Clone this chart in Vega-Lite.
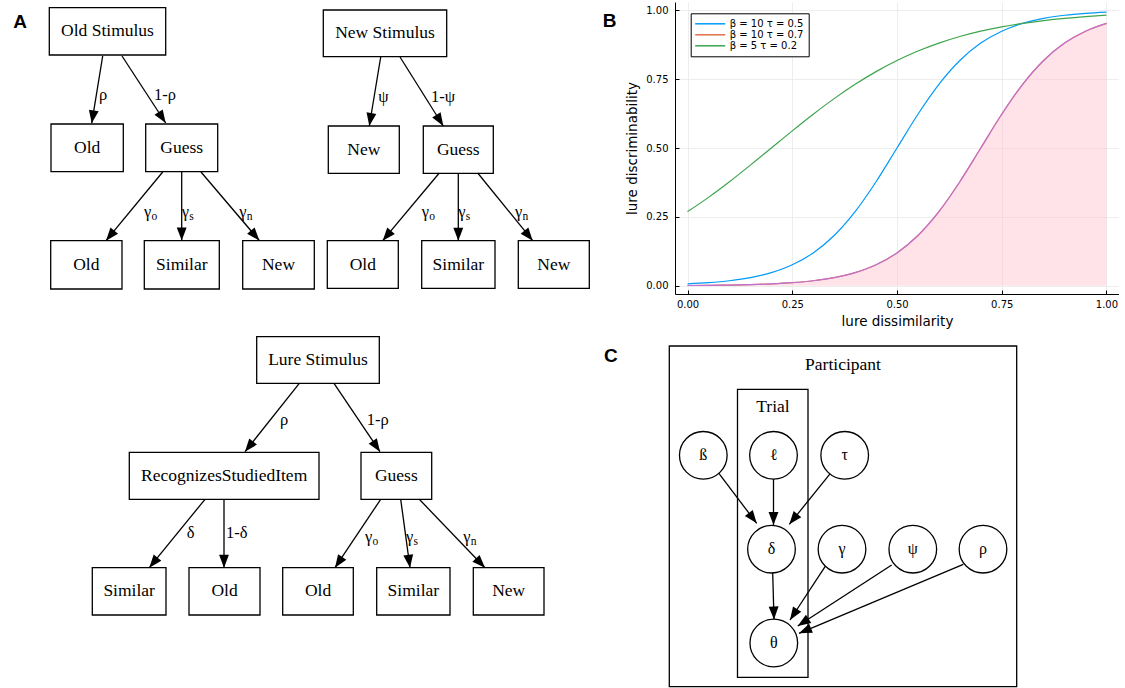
{
  "$schema": "https://vega.github.io/schema/vega-lite/v6.json",
  "background": "white",
  "padding": {"left": 0, "top": 2, "right": 0, "bottom": 0},
  "spacing": 0,
  "bounds": "flush",
  "config": {
    "view": {"stroke": null},
    "axis": {
      "domainColor": "black", "domainWidth": 1,
      "tickColor": "black", "tickSize": -4, "tickWidth": 1,
      "gridColor": "#e8e8e8", "gridWidth": 0.8,
      "labelFont": "DejaVu Sans", "labelFontSize": 10, "labelColor": "black",
      "titleFont": "DejaVu Sans", "titleFontSize": 13.5, "titleFontWeight": "normal", "titleColor": "black"
    }
  },
  "datasets": {
    "curves": [
      {"x": 0, "y": 0.0067, "series": "β = 10 τ = 0.5"},
      {"x": 0.05, "y": 0.0110, "series": "β = 10 τ = 0.5"},
      {"x": 0.1, "y": 0.0180, "series": "β = 10 τ = 0.5"},
      {"x": 0.15, "y": 0.0293, "series": "β = 10 τ = 0.5"},
      {"x": 0.2, "y": 0.0474, "series": "β = 10 τ = 0.5"},
      {"x": 0.25, "y": 0.0759, "series": "β = 10 τ = 0.5"},
      {"x": 0.3, "y": 0.1192, "series": "β = 10 τ = 0.5"},
      {"x": 0.35, "y": 0.1824, "series": "β = 10 τ = 0.5"},
      {"x": 0.4, "y": 0.2689, "series": "β = 10 τ = 0.5"},
      {"x": 0.45, "y": 0.3775, "series": "β = 10 τ = 0.5"},
      {"x": 0.5, "y": 0.5, "series": "β = 10 τ = 0.5"},
      {"x": 0.55, "y": 0.6225, "series": "β = 10 τ = 0.5"},
      {"x": 0.6, "y": 0.7311, "series": "β = 10 τ = 0.5"},
      {"x": 0.65, "y": 0.8176, "series": "β = 10 τ = 0.5"},
      {"x": 0.7, "y": 0.8808, "series": "β = 10 τ = 0.5"},
      {"x": 0.75, "y": 0.9241, "series": "β = 10 τ = 0.5"},
      {"x": 0.8, "y": 0.9526, "series": "β = 10 τ = 0.5"},
      {"x": 0.85, "y": 0.9707, "series": "β = 10 τ = 0.5"},
      {"x": 0.9, "y": 0.9820, "series": "β = 10 τ = 0.5"},
      {"x": 0.95, "y": 0.9890, "series": "β = 10 τ = 0.5"},
      {"x": 1, "y": 0.9933, "series": "β = 10 τ = 0.5"},
      {"x": 0, "y": 0.0009, "series": "β = 10 τ = 0.7"},
      {"x": 0.05, "y": 0.0015, "series": "β = 10 τ = 0.7"},
      {"x": 0.1, "y": 0.0025, "series": "β = 10 τ = 0.7"},
      {"x": 0.15, "y": 0.0041, "series": "β = 10 τ = 0.7"},
      {"x": 0.2, "y": 0.0067, "series": "β = 10 τ = 0.7"},
      {"x": 0.25, "y": 0.0110, "series": "β = 10 τ = 0.7"},
      {"x": 0.3, "y": 0.0180, "series": "β = 10 τ = 0.7"},
      {"x": 0.35, "y": 0.0293, "series": "β = 10 τ = 0.7"},
      {"x": 0.4, "y": 0.0474, "series": "β = 10 τ = 0.7"},
      {"x": 0.45, "y": 0.0759, "series": "β = 10 τ = 0.7"},
      {"x": 0.5, "y": 0.1192, "series": "β = 10 τ = 0.7"},
      {"x": 0.55, "y": 0.1824, "series": "β = 10 τ = 0.7"},
      {"x": 0.6, "y": 0.2689, "series": "β = 10 τ = 0.7"},
      {"x": 0.65, "y": 0.3775, "series": "β = 10 τ = 0.7"},
      {"x": 0.7, "y": 0.5, "series": "β = 10 τ = 0.7"},
      {"x": 0.75, "y": 0.6225, "series": "β = 10 τ = 0.7"},
      {"x": 0.8, "y": 0.7311, "series": "β = 10 τ = 0.7"},
      {"x": 0.85, "y": 0.8176, "series": "β = 10 τ = 0.7"},
      {"x": 0.9, "y": 0.8808, "series": "β = 10 τ = 0.7"},
      {"x": 0.95, "y": 0.9241, "series": "β = 10 τ = 0.7"},
      {"x": 1, "y": 0.9526, "series": "β = 10 τ = 0.7"},
      {"x": 0, "y": 0.2689, "series": "β = 5 τ = 0.2"},
      {"x": 0.05, "y": 0.3208, "series": "β = 5 τ = 0.2"},
      {"x": 0.1, "y": 0.3775, "series": "β = 5 τ = 0.2"},
      {"x": 0.15, "y": 0.4378, "series": "β = 5 τ = 0.2"},
      {"x": 0.2, "y": 0.5, "series": "β = 5 τ = 0.2"},
      {"x": 0.25, "y": 0.5622, "series": "β = 5 τ = 0.2"},
      {"x": 0.3, "y": 0.6225, "series": "β = 5 τ = 0.2"},
      {"x": 0.35, "y": 0.6792, "series": "β = 5 τ = 0.2"},
      {"x": 0.4, "y": 0.7311, "series": "β = 5 τ = 0.2"},
      {"x": 0.45, "y": 0.7773, "series": "β = 5 τ = 0.2"},
      {"x": 0.5, "y": 0.8176, "series": "β = 5 τ = 0.2"},
      {"x": 0.55, "y": 0.8520, "series": "β = 5 τ = 0.2"},
      {"x": 0.6, "y": 0.8808, "series": "β = 5 τ = 0.2"},
      {"x": 0.65, "y": 0.9047, "series": "β = 5 τ = 0.2"},
      {"x": 0.7, "y": 0.9241, "series": "β = 5 τ = 0.2"},
      {"x": 0.75, "y": 0.9399, "series": "β = 5 τ = 0.2"},
      {"x": 0.8, "y": 0.9526, "series": "β = 5 τ = 0.2"},
      {"x": 0.85, "y": 0.9627, "series": "β = 5 τ = 0.2"},
      {"x": 0.9, "y": 0.9707, "series": "β = 5 τ = 0.2"},
      {"x": 0.95, "y": 0.9770, "series": "β = 5 τ = 0.2"},
      {"x": 1, "y": 0.9820, "series": "β = 5 τ = 0.2"}
    ],
    "boxes": [
      {"x1": 49.3, "y1": 7.7, "x2": 165.7, "y2": 55, "label": "Old Stimulus"},
      {"x1": 51, "y1": 124, "x2": 123.3, "y2": 171.7, "label": "Old"},
      {"x1": 145.7, "y1": 124, "x2": 217.7, "y2": 171.7, "label": "Guess"},
      {"x1": 50.7, "y1": 240.7, "x2": 122, "y2": 289, "label": "Old"},
      {"x1": 144.3, "y1": 240.7, "x2": 219.3, "y2": 289, "label": "Similar"},
      {"x1": 242.7, "y1": 240.7, "x2": 314.3, "y2": 289, "label": "New"},
      {"x1": 323.3, "y1": 10, "x2": 446.7, "y2": 56.7, "label": "New Stimulus"},
      {"x1": 328.3, "y1": 126, "x2": 399.3, "y2": 173.3, "label": "New"},
      {"x1": 423.3, "y1": 126, "x2": 493.3, "y2": 173.3, "label": "Guess"},
      {"x1": 327.3, "y1": 240.7, "x2": 398.3, "y2": 288.3, "label": "Old"},
      {"x1": 421.7, "y1": 240.7, "x2": 495, "y2": 288.3, "label": "Similar"},
      {"x1": 518.3, "y1": 240.7, "x2": 589.3, "y2": 288.3, "label": "New"},
      {"x1": 256.7, "y1": 336.7, "x2": 379.3, "y2": 383.3, "label": "Lure Stimulus"},
      {"x1": 129.3, "y1": 452.3, "x2": 319, "y2": 499.3, "label": "RecognizesStudiedItem"},
      {"x1": 361, "y1": 452.3, "x2": 431.7, "y2": 499.3, "label": "Guess"},
      {"x1": 92.3, "y1": 567.7, "x2": 166, "y2": 615, "label": "Similar"},
      {"x1": 189, "y1": 567.7, "x2": 260, "y2": 615, "label": "Old"},
      {"x1": 282.7, "y1": 567.7, "x2": 353.3, "y2": 615, "label": "Old"},
      {"x1": 376.7, "y1": 567.7, "x2": 450, "y2": 615, "label": "Similar"},
      {"x1": 473.3, "y1": 567.7, "x2": 544, "y2": 615, "label": "New"}
    ],
    "plates": [
      {"x1": 669.3, "y1": 346, "x2": 1016.7, "y2": 686.7, "label": "Participant"},
      {"x1": 737.5, "y1": 389.3, "x2": 808, "y2": 677.3, "label": "Trial"}
    ],
    "ptitles": [
      {"x": 843, "y": 365, "label": "Participant"},
      {"x": 773, "y": 406.7, "label": "Trial"}
    ],
    "edges": [
      {"x1": 102.7, "y1": 56, "x2": 91.7, "y2": 123.3},
      {"x1": 122, "y1": 56, "x2": 165.7, "y2": 123},
      {"x1": 162.7, "y1": 172, "x2": 106, "y2": 240.7},
      {"x1": 181.7, "y1": 172, "x2": 181.7, "y2": 240.5},
      {"x1": 201, "y1": 172, "x2": 259.3, "y2": 240.5},
      {"x1": 380.7, "y1": 57, "x2": 369.3, "y2": 126},
      {"x1": 400, "y1": 57, "x2": 443.3, "y2": 126},
      {"x1": 439.3, "y1": 173, "x2": 382.7, "y2": 240.7},
      {"x1": 458.3, "y1": 173, "x2": 458.3, "y2": 240.7},
      {"x1": 477.7, "y1": 173, "x2": 532.7, "y2": 240.7},
      {"x1": 299.3, "y1": 383.3, "x2": 245, "y2": 451.7},
      {"x1": 334, "y1": 383.3, "x2": 380, "y2": 451.7},
      {"x1": 205, "y1": 499.3, "x2": 149.3, "y2": 567.7},
      {"x1": 224, "y1": 499.3, "x2": 224, "y2": 567.7},
      {"x1": 380.7, "y1": 499.3, "x2": 335, "y2": 567.7},
      {"x1": 400.7, "y1": 499.3, "x2": 410, "y2": 567.7},
      {"x1": 419.3, "y1": 499.3, "x2": 485, "y2": 567.7},
      {"x1": 718.3, "y1": 472.7, "x2": 756.7, "y2": 523.3},
      {"x1": 773.5, "y1": 479, "x2": 773.5, "y2": 525},
      {"x1": 831, "y1": 472.7, "x2": 789.3, "y2": 524.3},
      {"x1": 772.7, "y1": 573, "x2": 774, "y2": 619.5},
      {"x1": 827.7, "y1": 562.7, "x2": 790, "y2": 620},
      {"x1": 891.7, "y1": 565, "x2": 797.7, "y2": 626},
      {"x1": 963.3, "y1": 564.3, "x2": 799, "y2": 633.3}
    ],
    "elabels": [
      {"x": 99, "y": 95, "label": "ρ"},
      {"x": 154, "y": 95, "label": "1-ρ"},
      {"x": 144, "y": 212, "label": "γ", "sub": "o"},
      {"x": 181.7, "y": 212, "label": "γ", "sub": "s"},
      {"x": 239.3, "y": 212, "label": "γ", "sub": "n"},
      {"x": 378.3, "y": 97, "label": "ψ"},
      {"x": 431, "y": 97, "label": "1-ψ"},
      {"x": 421.7, "y": 212, "label": "γ", "sub": "o"},
      {"x": 458.3, "y": 212, "label": "γ", "sub": "s"},
      {"x": 515, "y": 212, "label": "γ", "sub": "n"},
      {"x": 280, "y": 420, "label": "ρ"},
      {"x": 366.7, "y": 420, "label": "1-ρ"},
      {"x": 186.7, "y": 533.3, "label": "δ"},
      {"x": 226, "y": 533.3, "label": "1-δ"},
      {"x": 365, "y": 536.7, "label": "γ", "sub": "o"},
      {"x": 406, "y": 536.7, "label": "γ", "sub": "s"},
      {"x": 463.3, "y": 536.7, "label": "γ", "sub": "n"}
    ],
    "nodes": [
      {"x": 703.3, "y": 455.3, "label": "ß"},
      {"x": 773.5, "y": 455.3, "label": "ℓ"},
      {"x": 844.7, "y": 455.3, "label": "τ"},
      {"x": 771.5, "y": 549.2, "label": "δ"},
      {"x": 842, "y": 549.2, "label": "γ"},
      {"x": 912.8, "y": 549.2, "label": "ψ"},
      {"x": 983, "y": 549.2, "label": "ρ"},
      {"x": 773.8, "y": 643, "label": "θ"}
    ],
    "letters": [
      {"x": 20, "y": 21.7, "label": "A"},
      {"x": 609.7, "y": 21.3, "label": "B"},
      {"x": 610.8, "y": 355.8, "label": "C"}
    ]
  },
  "hconcat": [
    {
      "width": 675,
      "height": 686,
      "layer": [
        {
          "data": {"name": "plates"},
          "mark": {"type": "rect", "filled": false, "stroke": "black", "strokeWidth": 1.3},
          "encoding": {
            "x": {"field": "x1", "type": "quantitative", "scale": {"domain": [0, 675], "nice": false, "zero": false}, "axis": null},
            "x2": {"field": "x2"},
            "y": {"field": "y1", "type": "quantitative", "scale": {"domain": [2, 688], "nice": false, "zero": false, "reverse": true}, "axis": null},
            "y2": {"field": "y2"}
          }
        },
        {
          "data": {"name": "boxes"},
          "mark": {"type": "rect", "filled": false, "stroke": "black", "strokeWidth": 1.3},
          "encoding": {
            "x": {"field": "x1", "type": "quantitative", "scale": {"domain": [0, 675], "nice": false, "zero": false}, "axis": null},
            "x2": {"field": "x2"},
            "y": {"field": "y1", "type": "quantitative", "scale": {"domain": [2, 688], "nice": false, "zero": false, "reverse": true}, "axis": null},
            "y2": {"field": "y2"}
          }
        },
        {
          "data": {"name": "edges"},
          "mark": {"type": "rule", "color": "black", "strokeWidth": 1.3},
          "encoding": {
            "x": {"field": "x1", "type": "quantitative", "scale": {"domain": [0, 675], "nice": false, "zero": false}, "axis": null},
            "x2": {"field": "x2"},
            "y": {"field": "y1", "type": "quantitative", "scale": {"domain": [2, 688], "nice": false, "zero": false, "reverse": true}, "axis": null},
            "y2": {"field": "y2"}
          }
        },
        {
          "data": {"name": "edges"},
          "transform": [{"calculate": "atan2(datum.x2 - datum.x1, datum.y1 - datum.y2) * 180 / PI", "as": "ang"}],
          "mark": {"type": "point", "shape": "M0,0L-0.38,1L0.38,1Z", "size": 676, "filled": true, "color": "black", "opacity": 1, "strokeWidth": 0},
          "encoding": {
            "x": {"field": "x2", "type": "quantitative", "scale": {"domain": [0, 675], "nice": false, "zero": false}, "axis": null},
            "y": {"field": "y2", "type": "quantitative", "scale": {"domain": [2, 688], "nice": false, "zero": false, "reverse": true}, "axis": null},
            "angle": {"field": "ang", "type": "quantitative", "scale": null}
          }
        },
        {
          "data": {"name": "nodes"},
          "mark": {"type": "point", "shape": "circle", "size": 2270, "filled": true, "fill": "white", "stroke": "black", "strokeWidth": 1.3, "opacity": 1},
          "encoding": {
            "x": {"field": "x", "type": "quantitative", "scale": {"domain": [0, 675], "nice": false, "zero": false}, "axis": null},
            "y": {"field": "y", "type": "quantitative", "scale": {"domain": [2, 688], "nice": false, "zero": false, "reverse": true}, "axis": null}
          }
        },
        {
          "data": {"name": "boxes"},
          "transform": [
            {"calculate": "(datum.x1 + datum.x2) / 2", "as": "cx"},
            {"calculate": "(datum.y1 + datum.y2) / 2", "as": "cy"}
          ],
          "mark": {"type": "text", "font": "Liberation Serif", "fontSize": 17.5, "color": "black"},
          "encoding": {
            "x": {"field": "cx", "type": "quantitative", "scale": {"domain": [0, 675], "nice": false, "zero": false}, "axis": null},
            "y": {"field": "cy", "type": "quantitative", "scale": {"domain": [2, 688], "nice": false, "zero": false, "reverse": true}, "axis": null},
            "text": {"field": "label"}
          }
        },
        {
          "data": {"name": "nodes"},
          "mark": {"type": "text", "font": "Liberation Serif", "fontSize": 16, "color": "black"},
          "encoding": {
            "x": {"field": "x", "type": "quantitative", "scale": {"domain": [0, 675], "nice": false, "zero": false}, "axis": null},
            "y": {"field": "y", "type": "quantitative", "scale": {"domain": [2, 688], "nice": false, "zero": false, "reverse": true}, "axis": null},
            "text": {"field": "label"}
          }
        },
        {
          "data": {"name": "elabels"},
          "mark": {"type": "text", "font": "Liberation Serif", "fontSize": 16.5, "color": "black", "align": "left"},
          "encoding": {
            "x": {"field": "x", "type": "quantitative", "scale": {"domain": [0, 675], "nice": false, "zero": false}, "axis": null},
            "y": {"field": "y", "type": "quantitative", "scale": {"domain": [2, 688], "nice": false, "zero": false, "reverse": true}, "axis": null},
            "text": {"field": "label"}
          }
        },
        {
          "data": {"name": "elabels"},
          "transform": [{"filter": "datum.sub"}],
          "mark": {"type": "text", "font": "Liberation Serif", "fontSize": 11.5, "color": "black", "align": "left", "dx": 7.5, "dy": 5},
          "encoding": {
            "x": {"field": "x", "type": "quantitative", "scale": {"domain": [0, 675], "nice": false, "zero": false}, "axis": null},
            "y": {"field": "y", "type": "quantitative", "scale": {"domain": [2, 688], "nice": false, "zero": false, "reverse": true}, "axis": null},
            "text": {"field": "sub"}
          }
        },
        {
          "data": {"name": "ptitles"},
          "mark": {"type": "text", "font": "Liberation Serif", "fontSize": 17.5, "color": "black"},
          "encoding": {
            "x": {"field": "x", "type": "quantitative", "scale": {"domain": [0, 675], "nice": false, "zero": false}, "axis": null},
            "y": {"field": "y", "type": "quantitative", "scale": {"domain": [2, 688], "nice": false, "zero": false, "reverse": true}, "axis": null},
            "text": {"field": "label"}
          }
        },
        {
          "data": {"name": "letters"},
          "mark": {"type": "text", "font": "Liberation Sans", "fontSize": 19, "fontWeight": "bold", "color": "black"},
          "encoding": {
            "x": {"field": "x", "type": "quantitative", "scale": {"domain": [0, 675], "nice": false, "zero": false}, "axis": null},
            "y": {"field": "y", "type": "quantitative", "scale": {"domain": [2, 688], "nice": false, "zero": false, "reverse": true}, "axis": null},
            "text": {"field": "label"}
          }
        }
      ]
    },
    {
      "width": 444,
      "height": 292,
      "data": {"name": "curves"},
      "encoding": {
        "x": {
          "field": "x", "type": "quantitative",
          "scale": {"domain": [-0.03, 1.03], "nice": false, "zero": false},
          "axis": {"values": [0, 0.25, 0.5, 0.75, 1], "format": ".2f", "title": "lure dissimilarity", "labelPadding": 9, "titlePadding": 5, "labelFlush": false}
        },
        "y": {
          "field": "y", "type": "quantitative",
          "scale": {"domain": [-0.03, 1.03], "nice": false, "zero": false},
          "axis": {"values": [0, 0.25, 0.5, 0.75, 1], "format": ".2f", "title": "lure discriminability", "labelPadding": 11, "titlePadding": 6}
        }
      },
      "layer": [
        {
          "transform": [{"filter": "datum.series === 'β = 10 τ = 0.7'"}],
          "mark": {"type": "area", "color": "#ffc0cb", "fillOpacity": 0.45, "interpolate": "monotone"},
          "encoding": {"y2": {"datum": 0}}
        },
        {
          "mark": {"type": "line", "strokeWidth": 1.2, "interpolate": "monotone"},
          "encoding": {
            "color": {
              "field": "series", "type": "nominal",
              "scale": {"domain": ["β = 10 τ = 0.5", "β = 10 τ = 0.7", "β = 5 τ = 0.2"], "range": ["#009af9", "#e26f46", "#3da44d"]},
              "legend": {
                "title": null, "orient": "none", "legendX": 690.7, "legendY": 11.3,
                "symbolType": "M-3.333,0H3.333", "symbolSize": 81, "symbolStrokeWidth": 1.5,
                "symbolOffset": 9, "labelOffset": 14,
                "labelFont": "DejaVu Sans", "labelFontSize": 10, "labelColor": "black",
                "strokeColor": "black", "fillColor": "white", "padding": 5, "rowPadding": 0, "cornerRadius": 0
              }
            }
          }
        },
        {
          "transform": [{"filter": "datum.series === 'β = 10 τ = 0.7'"}],
          "mark": {"type": "line", "color": "#c271d2", "strokeWidth": 1.2, "interpolate": "monotone"}
        }
      ]
    }
  ]
}
